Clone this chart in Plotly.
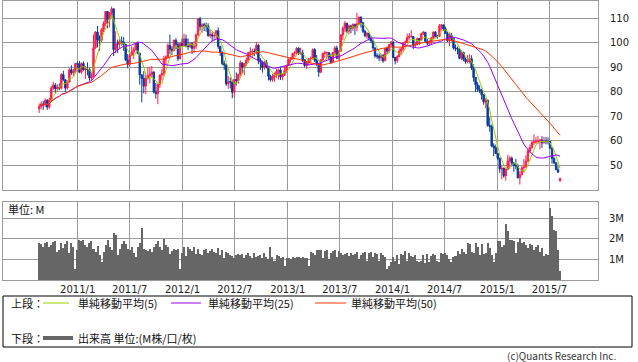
import pandas as pd
import plotly.graph_objects as go

# ---------------- data (weekly) ----------------
start_date = "2010-08-20"

opens = [
    73.0, 74.0, 75.0, 74.6, 76.5, 73.7, 76.5, 81.5, 82.7, 81.2, 81.7, 81.4, 87.0, 84.9, 81.5, 84.0, 89.0, 87.8, 88.0, 91.5,
    91.4, 88.0, 91.5, 89.0, 89.3, 89.0, 85.6, 86.2, 98.0, 104.4, 101.2, 101.0, 105.4, 107.9, 112.8, 109.6, 112.3, 113.9, 97.2, 99.6,
    99.5, 100.6, 100.2, 99.3, 93.0, 91.2, 94.9, 96.2, 97.2, 99.9, 95.7, 86.9, 85.4, 82.3, 85.4, 86.5, 87.2, 88.0, 79.9, 79.2,
    83.0, 86.8, 87.4, 93.3, 94.3, 99.0, 97.4, 96.8, 101.0, 99.4, 93.5, 99.7,
    98.8, 101.6, 98.7, 98.5, 99.6, 97.8, 98.7, 103.2, 109.8, 106.7, 107.4, 107.1, 106.9, 103.0, 103.3, 102.8, 103.0, 104.9, 98.5, 96.1,
    91.5, 90.9, 83.2, 84.1, 84.0, 79.8, 85.0, 84.5, 87.1, 91.8, 90.1, 91.4, 92.9, 96.0, 96.2, 96.5, 96.4, 99.0, 92.9, 92.2,
    89.9, 91.9, 90.0, 86.3, 84.9, 86.1, 86.9, 88.3, 88.9, 86.0, 86.7, 88.7,
    90.8, 93.1, 93.6, 95.6, 95.9, 97.8, 95.7, 95.9, 93.1, 90.7, 91.9, 93.5, 93.7, 97.2, 92.7, 91.3, 88.0, 93.0, 95.6, 96.0,
    96.0, 94.2, 92.0, 96.0, 97.9, 93.7, 96.6, 103.2, 106.0, 108.0, 104.7, 106.9, 106.0, 107.5, 106.4, 107.7, 110.5, 108.2, 104.7, 102.9,
    103.8, 102.0, 100.8, 97.9, 94.6, 94.6, 93.8, 94.8, 92.7, 97.7, 96.6, 99.3,
    100.3, 94.0, 92.7, 94.4, 96.6, 97.5, 100.0, 100.3, 102.2, 102.6, 102.6, 98.9, 99.5, 101.7, 101.1, 103.7, 104.3, 100.6, 99.8, 100.0,
    102.0, 104.4, 102.7, 102.7, 106.9, 107.3, 105.7, 103.8, 100.8, 103.1, 102.1, 97.9, 97.7, 97.4, 93.7, 96.0, 93.3, 92.3, 92.4, 93.5,
    89.7, 85.8, 82.8, 81.0, 80.5, 78.7, 75.8, 76.5, 66.2, 65.8, 57.8, 57.1,
    54.7, 52.7, 48.4, 48.7, 45.6, 48.2, 51.7, 52.8, 50.8, 49.8, 49.6, 44.8, 46.0, 48.9, 49.1, 51.6, 55.7, 57.2, 59.2, 59.4,
    59.7, 59.7, 60.3, 59.1, 60.0, 59.6, 59.6, 56.9, 52.7, 50.9, 48.1, 43.6,
]

highs = [
    75.2, 76.0, 76.3, 77.2, 77.0, 77.6, 82.3, 84.0, 83.5, 83.1, 83.4, 87.6, 88.6, 85.2, 84.7, 89.6, 90.8, 89.4, 91.7, 92.2,
    92.6, 92.0, 92.4, 90.5, 92.0, 89.6, 87.5, 103.4, 104.8, 106.9, 103.0, 106.0, 108.8, 113.0, 112.9, 112.4, 114.8, 113.9, 104.7, 101.3,
    101.7, 102.6, 102.4, 99.6, 95.4, 95.4, 98.6, 98.2, 100.0, 100.6, 96.0, 87.0, 88.4, 86.9, 89.9, 90.2, 90.5, 88.4, 83.6, 83.4,
    87.0, 89.4, 94.7, 94.9, 99.8, 103.4, 98.6, 101.4, 101.9, 100.1, 100.0, 101.8,
    103.7, 103.4, 101.8, 100.4, 100.3, 100.6, 103.9, 110.1, 110.6, 108.0, 108.2, 108.3, 108.0, 105.5, 104.3, 104.3, 105.2, 106.3, 98.8, 96.6,
    92.7, 91.4, 86.4, 85.8, 84.9, 85.2, 87.9, 87.4, 92.8, 92.0, 91.8, 94.0, 96.3, 98.2, 97.6, 97.7, 100.4, 99.6, 93.7, 92.7,
    92.6, 93.0, 90.4, 86.9, 87.3, 87.9, 89.3, 89.5, 90.0, 87.6, 90.5, 91.0,
    93.6, 94.2, 96.0, 96.6, 98.2, 98.2, 98.0, 97.2, 93.3, 92.4, 93.8, 94.4, 97.7, 97.8, 95.0, 91.4, 93.2, 96.0, 96.8, 96.4,
    96.1, 95.6, 96.3, 98.7, 98.9, 97.0, 103.6, 106.8, 108.9, 108.2, 107.5, 107.4, 108.0, 107.9, 112.2, 110.7, 110.8, 108.5, 105.3, 104.4,
    104.2, 102.8, 101.3, 98.2, 95.7, 95.6, 95.5, 95.4, 97.9, 98.5, 99.4, 100.8,
    100.5, 94.2, 94.9, 97.8, 98.2, 100.3, 101.0, 103.8, 104.0, 105.2, 102.8, 100.5, 102.2, 102.0, 104.2, 104.9, 104.5, 101.5, 101.2, 102.5,
    104.7, 104.8, 103.3, 107.7, 107.7, 107.5, 106.6, 104.5, 104.2, 104.1, 102.3, 99.3, 98.5, 97.6, 96.5, 96.4, 94.0, 95.0, 95.3, 94.9,
    91.3, 86.0, 84.0, 82.6, 81.2, 79.0, 77.3, 76.8, 69.5, 66.6, 58.9, 58.4,
    54.8, 53.1, 49.9, 48.9, 48.7, 54.2, 53.8, 53.5, 51.2, 52.5, 50.5, 47.5, 49.6, 52.5, 54.0, 56.7, 58.4, 59.9, 62.6, 61.4,
    62.0, 60.6, 61.8, 61.5, 61.5, 61.3, 59.6, 57.5, 53.5, 51.3, 49.5, 45.0,
]

lows = [
    71.3, 72.8, 72.6, 73.8, 72.6, 73.0, 76.0, 80.8, 79.5, 79.9, 80.6, 81.0, 84.3, 80.0, 80.8, 83.6, 86.9, 86.3, 87.4, 89.4,
    87.6, 87.2, 88.6, 85.2, 86.7, 84.5, 84.4, 85.8, 97.5, 98.1, 96.8, 100.2, 104.4, 106.8, 105.9, 106.3, 110.3, 94.6, 95.7, 95.8,
    97.4, 98.9, 96.7, 92.5, 89.6, 90.3, 94.5, 93.4, 96.9, 95.4, 82.9, 75.7, 79.3, 79.0, 85.0, 83.4, 85.9, 79.3, 77.1, 74.9,
    81.5, 84.6, 86.3, 91.0, 93.5, 95.4, 94.9, 96.5, 97.4, 92.5, 93.2, 98.5,
    98.8, 98.1, 97.0, 97.8, 95.4, 95.8, 97.4, 102.9, 105.0, 104.1, 104.8, 104.5, 102.4, 101.9, 100.7, 101.0, 101.5, 97.5, 94.6, 90.8,
    88.9, 82.4, 81.2, 81.3, 77.3, 77.6, 82.5, 83.3, 86.3, 87.4, 86.8, 90.5, 91.9, 94.6, 93.8, 94.6, 95.2, 91.3, 88.9, 87.8,
    89.0, 89.5, 84.6, 84.1, 84.1, 84.1, 85.5, 84.9, 84.8, 84.7, 86.4, 87.7,
    90.5, 91.9, 93.1, 94.4, 95.1, 95.0, 95.1, 92.1, 90.1, 89.3, 90.8, 91.6, 93.2, 92.2, 90.4, 86.1, 87.6, 92.6, 93.8, 93.2,
    93.1, 91.4, 91.6, 94.7, 93.2, 93.0, 96.2, 101.1, 104.3, 104.1, 103.5, 103.9, 104.8, 103.2, 104.7, 107.2, 106.2, 104.0, 102.2, 101.6,
    100.9, 99.9, 97.0, 93.9, 93.4, 92.5, 92.6, 91.8, 92.4, 95.4, 95.9, 98.4,
    93.8, 91.2, 91.8, 94.0, 95.2, 96.3, 98.8, 99.9, 101.3, 102.0, 97.4, 98.2, 98.9, 99.2, 100.9, 103.2, 100.1, 98.9, 98.9, 99.2,
    101.6, 102.2, 101.7, 102.4, 105.1, 104.8, 103.6, 100.3, 98.7, 100.6, 97.2, 96.6, 95.3, 93.3, 92.9, 92.5, 91.4, 91.6, 91.5, 88.9,
    84.1, 79.8, 80.1, 79.4, 76.8, 74.7, 73.3, 65.7, 63.7, 57.3, 53.6, 54.5,
    52.0, 46.8, 44.2, 44.8, 43.6, 48.1, 48.5, 49.4, 47.3, 48.3, 44.5, 42.0, 45.8, 47.0, 49.0, 51.4, 54.8, 56.5, 58.2, 58.6,
    58.5, 56.5, 57.0, 58.8, 58.5, 58.4, 56.5, 50.6, 50.5, 48.0, 46.9, 43.2,
]

closes = [
    74.0, 75.0, 74.6, 76.5, 73.7, 76.5, 81.5, 82.7, 81.2, 81.7, 81.4, 87.0, 84.9, 81.5, 84.0, 89.0, 87.8, 88.0, 91.5, 91.4,
    88.0, 91.5, 89.0, 89.3, 89.0, 85.6, 86.2, 98.0, 104.4, 101.2, 101.0, 105.4, 107.9, 112.8, 109.6, 112.3, 113.9, 97.2, 99.6, 99.5,
    100.6, 100.2, 99.3, 93.0, 91.2, 94.9, 96.2, 97.2, 99.9, 95.7, 86.9, 85.4, 82.3, 85.4, 86.5, 87.2, 88.0, 79.9, 79.2, 83.0,
    86.8, 87.4, 93.3, 94.3, 99.0, 97.4, 96.8, 101.0, 99.4, 93.5, 99.7, 98.8,
    101.6, 98.7, 98.5, 99.6, 97.8, 98.7, 103.2, 109.8, 106.7, 107.4, 107.1, 106.9, 103.0, 103.3, 102.8, 103.0, 104.9, 98.5, 96.1, 91.5,
    90.9, 83.2, 84.1, 84.0, 79.8, 85.0, 84.5, 87.1, 91.8, 90.1, 91.4, 92.9, 96.0, 96.2, 96.5, 96.4, 99.0, 92.9, 92.2, 89.9,
    91.9, 90.0, 86.3, 84.9, 86.1, 86.9, 88.3, 88.9, 86.0, 86.7, 88.7, 90.8,
    93.1, 93.6, 95.6, 95.9, 97.8, 95.7, 95.9, 93.1, 90.7, 91.9, 93.5, 93.7, 97.2, 92.7, 91.3, 88.0, 93.0, 95.6, 96.0, 96.0,
    94.2, 92.0, 96.0, 97.9, 93.7, 96.6, 103.2, 106.0, 108.0, 104.7, 106.9, 106.0, 107.5, 106.4, 107.7, 110.5, 108.2, 104.7, 102.9, 103.8,
    102.0, 100.8, 97.9, 94.6, 94.6, 93.8, 94.8, 92.7, 97.7, 96.6, 99.3, 100.3,
    94.0, 92.7, 94.4, 96.6, 97.5, 100.0, 100.3, 102.2, 102.6, 102.6, 98.9, 99.5, 101.7, 101.1, 103.7, 104.3, 100.6, 99.8, 100.0, 102.0,
    104.4, 102.7, 102.7, 106.9, 107.3, 105.7, 103.8, 100.8, 103.1, 102.1, 97.9, 97.7, 97.4, 93.7, 96.0, 93.3, 92.3, 92.4, 93.5, 89.7,
    85.8, 82.8, 81.0, 80.5, 78.7, 75.8, 76.5, 66.2, 65.8, 57.8, 57.1, 54.7,
    52.7, 48.4, 48.7, 45.6, 48.2, 51.7, 52.8, 50.8, 49.8, 49.6, 44.8, 46.0, 48.9, 49.1, 51.6, 55.7, 57.2, 59.2, 59.4, 59.7,
    59.7, 60.3, 59.1, 60.0, 59.6, 59.6, 56.9, 52.7, 50.9, 48.1, 47.1, 44.4,
]

volumes_m = [
    1.8, 1.75, 1.6, 1.8, 1.85, 1.6, 1.7, 1.85, 1.9, 1.35, 1.45, 1.8, 1.55, 1.75, 1.9, 1.3, 1.8, 1.6, 0.55, 1.45,
    1.95, 1.9, 1.95, 1.7, 1.6, 1.8, 1.9, 1.5, 1.35, 1.65, 1.2, 0.87, 1.35, 1.7, 1.95, 1.6, 1.45, 2.3, 2.2, 1.2,
    1.5, 1.75, 1.9, 1.75, 1.5, 1.45, 1.6, 1.3, 1.1, 1.6, 1.8, 2.55, 1.5, 1.45, 1.4, 1.5, 1.35, 1.6, 1.75, 1.9,
    1.6, 1.45, 2.0, 1.7, 1.6, 1.25, 1.4, 1.5, 1.45, 1.5, 0.55, 1.3,
    1.6, 1.15, 1.6, 1.5, 1.4, 1.6, 1.25, 1.5, 1.25, 1.2, 1.45, 1.5, 1.3, 1.4, 1.5, 1.35, 1.3, 1.55, 1.2, 1.45,
    1.05, 1.35, 1.3, 1.2, 1.15, 1.05, 1.2, 1.25, 1.2, 1.25, 1.05, 1.2, 1.3, 1.15, 1.05, 1.3, 1.1, 1.15, 1.2, 1.05,
    1.3, 1.1, 1.0, 1.6, 1.1, 0.95, 1.2, 1.15, 1.05, 1.1, 0.7, 1.05,
    1.05, 1.0, 1.1, 1.05, 1.1, 1.1, 1.05, 1.1, 1.05, 1.08, 0.7, 1.35, 1.3, 1.2, 1.45, 1.45, 1.45, 1.05, 1.4, 1.45,
    1.0, 1.3, 1.4, 1.45, 1.1, 1.4, 1.3, 1.2, 1.25, 1.3, 1.15, 1.3, 1.2, 1.25, 1.35, 1.0, 1.2, 1.3, 1.35, 0.95,
    1.3, 1.35, 1.1, 1.3, 1.25, 0.95, 1.3, 1.2, 1.1, 0.55, 0.7, 0.9,
    1.1, 0.95, 1.2, 0.8, 1.25, 1.2, 1.4, 0.95, 1.3, 1.15, 1.1, 1.2, 0.95, 0.9, 0.95, 1.2, 0.85, 1.25, 0.9, 1.15,
    1.25, 1.2, 0.95, 0.9, 1.3, 1.25, 1.3, 1.2, 1.0, 0.9, 1.1, 1.15, 1.4, 1.25, 1.5, 1.35, 1.25, 1.8, 1.75, 1.35,
    1.3, 1.8, 1.6, 1.2, 1.75, 1.25, 1.3, 1.8, 1.55, 1.2, 0.9, 1.3,
    1.9, 1.9, 1.6, 1.7, 2.75, 2.4, 1.95, 1.95, 1.9, 1.3, 1.85, 2.05, 1.8, 1.85, 1.7, 1.55, 1.75, 1.7, 1.45, 1.6,
    1.7, 1.35, 1.55, 1.15, 1.25, 1.2, 3.5, 3.1, 2.45, 2.4, 1.45, 0.45,
]

tick_dates = ["2011-01-01", "2011-07-01", "2012-01-01", "2012-07-01", "2013-01-01",
              "2013-07-01", "2014-01-01", "2014-07-01", "2015-01-01", "2015-07-01"]
tick_labels = ["2011/1", "2011/7", "2012/1", "2012/7", "2013/1",
               "2013/7", "2014/1", "2014/7", "2015/1", "2015/7"]
price_ticks = [50, 60, 70, 80, 90, 100, 110]
volume_ticks = [1, 2, 3]
volume_tick_labels = ["1M", "2M", "3M"]
ma_periods = [5, 25, 50]
ma_names = ["単純移動平均(5)", "単純移動平均(25)", "単純移動平均(50)"]

# ---------------- styling ----------------
W, H = 638, 362
ML, MR, MT, MB = 3, 40, 1, 82
PW, PH = W - ML - MR, H - MT - MB
UP = "#ff1f4d"
DOWN = "#0a3a9c"
MA_COLORS = ["#99cc00", "#9900ff", "#ff3300"]
VOL_COLOR = "#666666"
GRID = "#9a9a9a"
JP = "Noto Sans CJK JP"


def px_x(p):
    return (p - ML) / PW


def px_y(p):
    return (H - MB - p) / PH


dates = pd.date_range(start_date, periods=len(closes), freq="7D")
close_s = pd.Series(closes)

fig = go.Figure()
fig.add_trace(go.Candlestick(
    x=dates, open=opens, high=highs, low=lows, close=closes,
    increasing=dict(line=dict(color=UP, width=1), fillcolor=UP),
    decreasing=dict(line=dict(color=DOWN, width=1), fillcolor=DOWN),
    whiskerwidth=0, xaxis="x", yaxis="y", hoverinfo="skip", showlegend=False,
))
for p, c in zip(ma_periods, MA_COLORS):
    fig.add_trace(go.Scatter(
        x=dates, y=close_s.rolling(p, min_periods=1).mean(), mode="lines",
        line=dict(color=c, width=1), xaxis="x", yaxis="y",
        hoverinfo="skip", showlegend=False,
    ))
fig.add_trace(go.Bar(
    x=dates, y=volumes_m, marker=dict(color=VOL_COLOR, line=dict(width=0)),
    xaxis="x2", yaxis="y2", hoverinfo="skip", showlegend=False,
))

xcommon = dict(
    type="date", range=["2010-04-16", "2015-12-17"],
    tickvals=tick_dates, ticktext=tick_labels,
    showgrid=True, gridcolor=GRID, gridwidth=1,
    showline=True, linecolor=GRID, linewidth=1, mirror=True,
    ticks="", zeroline=False, automargin=False,
    tickfont=dict(family="DejaVu Sans", size=10, color="#222"),
    rangeslider=dict(visible=False),
)

price_bottom = px_y(190)
vol_top = px_y(202)

fig.update_layout(
    template="none",
    width=W, height=H,
    margin=dict(l=ML, r=MR, t=MT, b=MB, pad=0, autoexpand=False),
    paper_bgcolor="white", plot_bgcolor="white",
    bargap=0, boxgap=0.0,
    xaxis=dict(**xcommon, anchor="y", showticklabels=False, matches="x2"),
    xaxis2=dict(**xcommon, anchor="y2", showticklabels=True),
    yaxis=dict(
        domain=[price_bottom, 1], range=[39.8, 117.1], side="right",
        tickvals=price_ticks, showgrid=True, gridcolor=GRID, gridwidth=1,
        showline=True, linecolor=GRID, linewidth=1, mirror=True, zeroline=False,
        ticks="", ticklabelstandoff=9, automargin=False,
        tickfont=dict(family="DejaVu Sans", size=10, color="#222"),
    ),
    yaxis2=dict(
        domain=[0, vol_top], range=[0, 3.8], side="right",
        tickvals=volume_ticks, ticktext=volume_tick_labels,
        showgrid=True, gridcolor=GRID, gridwidth=1,
        showline=True, linecolor=GRID, linewidth=1, mirror=True, zeroline=False,
        ticks="", ticklabelstandoff=8, automargin=False,
        tickfont=dict(family="DejaVu Sans", size=10, color="#222"),
    ),
)

shapes = [
    dict(type="rect", xref="paper", yref="paper",
         x0=px_x(3), x1=px_x(632), y0=px_y(347), y1=px_y(296),
         line=dict(color="black", width=1), fillcolor="rgba(0,0,0,0)"),
]
leg_lines = [(43, 69), (171, 201), (315, 346)]
for (a, b), c in zip(leg_lines, MA_COLORS):
    shapes.append(dict(type="line", xref="paper", yref="paper",
                       x0=px_x(a), x1=px_x(b), y0=px_y(303), y1=px_y(303),
                       line=dict(color=c, width=1)))
shapes.append(dict(type="line", xref="paper", yref="paper",
                   x0=px_x(43), x1=px_x(73), y0=px_y(338), y1=px_y(338),
                   line=dict(color=VOL_COLOR, width=4)))
fig.update_layout(shapes=shapes)


def note(text, x, y, anchor="left", size=11, color="#111"):
    fig.add_annotation(text=text, xref="paper", yref="paper",
                       x=px_x(x), y=px_y(y), xanchor=anchor, yanchor="middle",
                       showarrow=False, font=dict(family=JP, size=size, color=color))


note("上段：", 9, 303)
for name, x in zip(ma_names, [76, 206, 349]):
    note(name, x, 303)
note("下段：", 9, 338)
note("出来高 単位:(M株/口/枚)", 76, 338)
note("単位: M", 6, 209)
note("(c)Quants Research Inc.", 618, 355, anchor="right", size=10, color="#333")

fig.write_html(
    "out.html",
    config={"displayModeBar": False, "staticPlot": True},
    post_script="document.body.style.margin='0';document.body.style.overflow='hidden';",
)
